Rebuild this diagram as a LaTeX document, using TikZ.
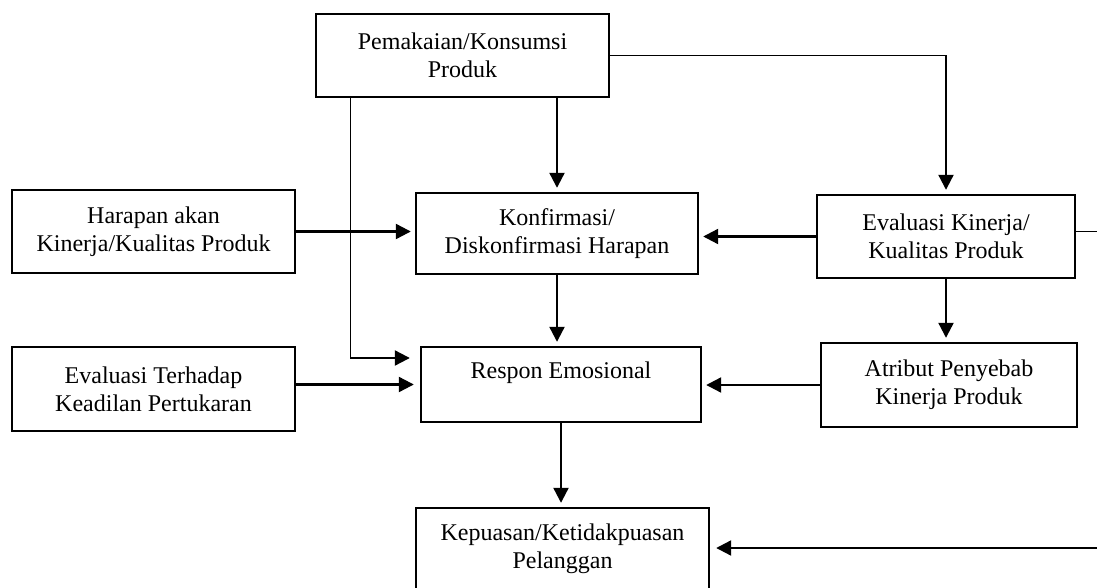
\documentclass[tikz,border=0pt]{standalone}
\usepackage{fontspec}
\setmainfont{Liberation Serif}
\usetikzlibrary{arrows.meta}
\begin{document}
\begin{tikzpicture}[x=0.5pt,y=-0.5pt,
  box/.style={draw, line width=1.2pt, align=center, inner sep=0pt,
              font=\fontsize{12}{14}\selectfont},
  arr/.style={line width=1.1pt, -{Triangle[length=7.5pt,width=7.5pt]}, shorten >=2pt},
  thinline/.style={line width=0.5pt}]
\useasboundingbox (0,0) rectangle (1097,588);
\node[box, minimum width=146.5pt, minimum height=41.5pt] (A) at (462.5,55.5) {Pemakaian/Konsumsi\\Produk};
\node[box, minimum width=141.5pt, minimum height=41.5pt] (B) at (153.5,231.5) {Harapan akan\\Kinerja/Kualitas Produk};
\node[box, minimum width=141pt, minimum height=40.5pt] (C) at (557,233.5) {Konfirmasi/\\Diskonfirmasi Harapan};
\node[box, minimum width=129pt, minimum height=41.5pt] (D) at (946,236.5) {Evaluasi Kinerja/\\Kualitas Produk};
\node[box, minimum width=141.5pt, minimum height=42pt] (E) at (153.5,389) {Evaluasi Terhadap\\Keadilan Pertukaran};
\node[box, minimum width=140pt, minimum height=37.5pt] (F) at (561,384.5) {Respon Emosional\\\mbox{}};
\node[box, minimum width=128pt, minimum height=42pt] (G) at (949,385) {Atribut Penyebab\\Kinerja Produk};
\node[box, minimum width=146.5pt, minimum height=41pt] (H) at (562.5,549) {Kepuasan/Ketidakpuasan\\Pelanggan};
\coordinate (k1) at (350,358);
\coordinate (out1) at (1097,232);
\coordinate (out2) at (1097,548);
% Pemakaian -> Konfirmasi
\draw[arr] (A.south -| C.north) -- (C.north);
% Pemakaian -> Evaluasi Kinerja
\draw[thinline] (A.east) -- (A.east -| D.north);
\draw[arr] (A.east -| D.north) -- (D.north);
% Pemakaian -> Respon
\draw[thinline] (A.south -| k1) -- (k1);
\draw[arr, shorten >=5pt] (k1) -- (k1 -| F.west);
% Harapan -> Konfirmasi
\draw[arr] (B.east) -- (B.east -| C.west);
% Evaluasi Kinerja -> Konfirmasi
\draw[arr] (D.west) -- (D.west -| C.east);
% Evaluasi Kinerja -> right edge
\draw[thinline] (out1 -| D.east) -- (out1);
% Konfirmasi -> Respon
\draw[arr] (C.south) -- (C.south |- F.north);
% Evaluasi Kinerja -> Atribut
\draw[arr] (D.south) -- (D.south |- G.north);
% Evaluasi Terhadap -> Respon
\draw[arr, shorten >=3pt] (F.west -| E.east) -- (F.west);
% Atribut -> Respon
\draw[arr] (G.west) -- (G.west -| F.east);
% Respon -> Kepuasan
\draw[arr] (F.south) -- (F.south |- H.north);
% right edge -> Kepuasan
\draw[arr, shorten >=3pt] (out2) -- (out2 -| H.east);
\end{tikzpicture}
\end{document}
